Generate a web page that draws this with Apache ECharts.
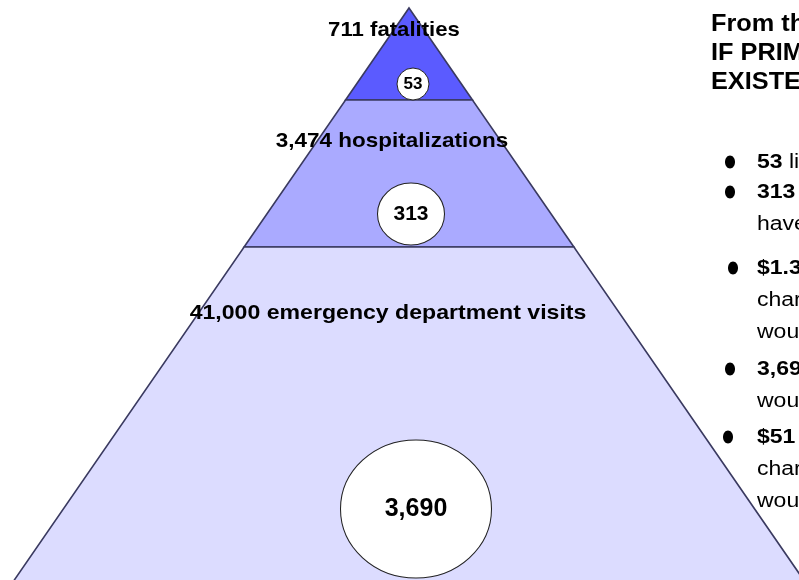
<!DOCTYPE html>
<html lang="en">
<head>
<meta charset="utf-8">
<title>Pyramid</title>
<style>
  html, body { margin: 0; padding: 0; background: #fff; }
  #chart { width: 799px; height: 580px; }
</style>
</head>
<body>
<div id="chart"></div>
<script src="https://cdn.jsdelivr.net/npm/echarts@6/dist/echarts.min.js"></script>
<script>
// data
var tierLabels = ['711 fatalities', '3,474 hospitalizations', '41,000 emergency department visits'];
var preventable = [53, 313, 3690];
var headerLines = ['From the above figures,', 'IF PRIMARY ENFORCEMENT HAD', 'EXISTED:'];
var bulletItems = [
  [['53', ' lives would have been saved']],
  [['313', ' hospitalizations would'], ['', 'have been prevented']],
  [['$1.3 million', ' in hospital'], ['', 'charges for hospitalizations'], ['', 'would have been saved']],
  [['3,690', ' ED visits'], ['', 'would have been prevented']],
  [['$51 million', ' in ED'], ['', 'charges for ED visits'], ['', 'would have been saved']]
];

// layout (pixel-like data space: x 0..799, y 0..580 downward)
var apex = [409, 8];
var slope = 0.69;
var tierBounds = [8, 100, 247, 592];
var tierColors = ['#5b5bff', '#aaaaff', '#dcdcff'];
var labelPos = [[394, 30], [392, 141], [388, 313]];
var labelScale = [1.055, 1.07, 1.1];
var circlePos = [[413, 84], [411, 214], [416, 509]];
var circleSize = [[32, 32], [67, 62], [151, 138]];
var circleFont = [17, 21, 25];
var bulletX = [730, 730, 733, 730, 728];
var itemY = [162, 192, 268, 369, 437];
var lineH = 32;
var FONT = '"Liberation Sans", Arial, sans-serif';

var chart = echarts.init(document.getElementById('chart'));

function halfW(y) { return (y - apex[1]) * slope; }

function renderTier(params, api) {
  var i = params.dataIndex;
  var y0 = tierBounds[i], y1 = tierBounds[i + 1];
  var pts = i === 0
    ? [[apex[0], y0], [apex[0] + halfW(y1), y1], [apex[0] - halfW(y1), y1]]
    : [[apex[0] - halfW(y0), y0], [apex[0] + halfW(y0), y0], [apex[0] + halfW(y1), y1], [apex[0] - halfW(y1), y1]];
  var px = pts.map(function (p) { return api.coord(p); });
  var lp = api.coord(labelPos[i]);
  return {
    type: 'group',
    children: [{
      type: 'polygon',
      shape: { points: px },
      style: { fill: tierColors[i], stroke: '#3a3a60', lineWidth: 1.6 }
    }, {
      type: 'text',
      z2: 20,
      x: lp[0], y: lp[1], scaleX: labelScale[i],
      style: {
        text: tierLabels[i], x: 0, y: 0,
        align: 'center', verticalAlign: 'middle',
        font: 'bold 21px ' + FONT, fill: '#000'
      }
    }]
  };
}

// right-hand text block (partly cut off by the right edge, as in the slide)
var graphics = [];
headerLines.forEach(function (t, k) {
  graphics.push({
    type: 'text', x: 711, y: 25 + k * 29, scaleX: 1.1,
    style: { text: t, font: 'bold 23px ' + FONT, fill: '#000', verticalAlign: 'middle' }
  });
});
bulletItems.forEach(function (item, k) {
  graphics.push({
    type: 'ellipse', shape: { cx: bulletX[k], cy: itemY[k], rx: 5, ry: 6.5 },
    style: { fill: '#000' }
  });
  item.forEach(function (ln, j) {
    graphics.push({
      type: 'text', x: 757, y: itemY[k] + j * lineH, scaleX: 1.15,
      style: {
        text: (ln[0] ? '{b|' + ln[0] + '}' : '') + '{n|' + ln[1] + '}',
        verticalAlign: 'middle',
        rich: {
          b: { fontWeight: 'bold', fontSize: 20, fontFamily: FONT, fill: '#000' },
          n: { fontWeight: 'normal', fontSize: 20, fontFamily: FONT, fill: '#000' }
        }
      }
    });
  });
});

chart.setOption({
  animation: false,
  backgroundColor: '#fff',
  grid: { left: 0, right: 0, top: 0, bottom: 0 },
  xAxis: { type: 'value', min: 0, max: 799, show: false },
  yAxis: { type: 'value', min: 0, max: 580, inverse: true, show: false },
  graphic: graphics,
  series: [{
    type: 'custom',
    silent: true,
    renderItem: renderTier,
    data: tierLabels.map(function (t, i) { return [i]; }),
    z: 1
  }, {
    type: 'scatter',
    silent: true,
    z: 5,
    symbol: 'circle',
    itemStyle: { color: '#fff', borderColor: '#222', borderWidth: 1, opacity: 1 },
    label: {
      show: true, position: 'inside', color: '#000', fontWeight: 'bold', fontFamily: FONT,
      formatter: function (p) { return p.value[2].toLocaleString('en-US'); }
    },
    data: preventable.map(function (v, i) {
      return {
        value: [circlePos[i][0], circlePos[i][1], v],
        symbolSize: circleSize[i],
        label: { fontSize: circleFont[i] }
      };
    })
  }]
});
</script>
</body>
</html>
